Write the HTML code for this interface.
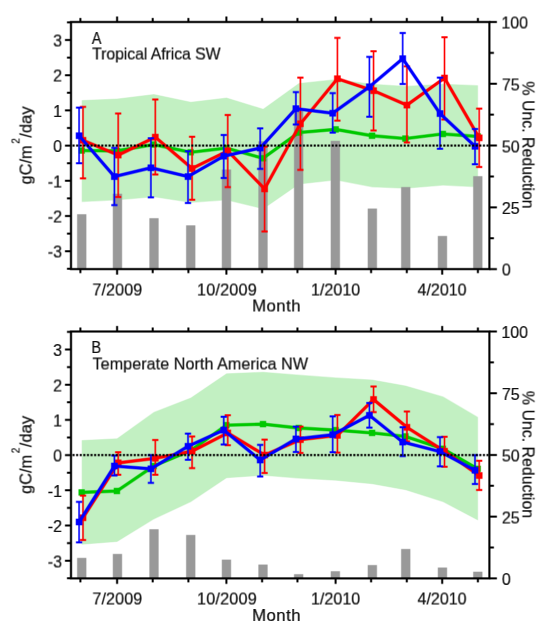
<!DOCTYPE html>
<html><head><meta charset="utf-8"><style>
html,body{margin:0;padding:0;background:#fff;}
svg{display:block;will-change:transform;}
.t{font-family:"Liberation Sans",sans-serif;font-size:16px;fill:#111;stroke:#111;stroke-width:0.2px;}
</style></head><body>
<svg width="550" height="625" viewBox="0 0 550 625">
<g transform="translate(-0.3 -0.3)" opacity="1.0000">
<rect width="550" height="625" fill="#fff"/>
<g>
<polygon points="81.85,100.19 117.1,98.78 153.9,94.21 190.85,101.95 226.55,97.73 263.2,108.99 298.95,83.3 335.85,79.42 372.28,84 405.6,86.11 443.05,84 477.9,85.41 477.9,187.14 443.05,185.38 405.6,188.54 372.28,187.14 335.85,180.1 298.95,184.32 263.2,208.96 226.55,200.16 190.85,202.62 153.9,196.99 117.1,200.16 81.85,201.92" fill="#c2f0c2"/>
<rect x="77.15" y="214.24" width="9.2" height="54.86" fill="#999999"/>
<rect x="112.85" y="193.73" width="9.2" height="75.37" fill="#999999"/>
<rect x="149.4" y="218.2" width="9.2" height="50.9" fill="#999999"/>
<rect x="186.15" y="225.36" width="9.2" height="43.74" fill="#999999"/>
<rect x="221.85" y="169.52" width="9.2" height="99.58" fill="#999999"/>
<rect x="258.4" y="141.35" width="9.2" height="127.75" fill="#999999"/>
<rect x="294.05" y="110.96" width="9.2" height="158.14" fill="#999999"/>
<rect x="330.75" y="140.86" width="9.2" height="128.24" fill="#999999"/>
<rect x="367.75" y="208.56" width="9.2" height="60.54" fill="#999999"/>
<rect x="401.15" y="187.06" width="9.2" height="82.04" fill="#999999"/>
<rect x="437.85" y="235.99" width="9.2" height="33.11" fill="#999999"/>
<rect x="473.2" y="176.19" width="9.2" height="92.91" fill="#999999"/>
<polyline points="81.65,150.53 116.9,150.88 153.7,144.54 190.65,152.29 226.35,148.06 263,158.27 298.75,132.58 335.65,129.41 372.08,135.74 405.4,138.56 442.85,133.98 477.7,136.45" fill="none" stroke="#00c800" stroke-width="3.2" stroke-linejoin="miter"/>
<rect x="78.5" y="147.38" width="6.3" height="6.3" fill="#00c800"/>
<rect x="113.75" y="147.73" width="6.3" height="6.3" fill="#00c800"/>
<rect x="150.55" y="141.39" width="6.3" height="6.3" fill="#00c800"/>
<rect x="187.5" y="149.14" width="6.3" height="6.3" fill="#00c800"/>
<rect x="223.2" y="144.91" width="6.3" height="6.3" fill="#00c800"/>
<rect x="259.85" y="155.12" width="6.3" height="6.3" fill="#00c800"/>
<rect x="295.6" y="129.43" width="6.3" height="6.3" fill="#00c800"/>
<rect x="332.5" y="126.26" width="6.3" height="6.3" fill="#00c800"/>
<rect x="368.93" y="132.59" width="6.3" height="6.3" fill="#00c800"/>
<rect x="402.25" y="135.41" width="6.3" height="6.3" fill="#00c800"/>
<rect x="439.7" y="130.83" width="6.3" height="6.3" fill="#00c800"/>
<rect x="474.55" y="133.3" width="6.3" height="6.3" fill="#00c800"/>
<polyline points="83,140.32 118.2,155.1 155.3,137.15 192.1,168.48 227.75,150.88 264.6,188.9 300.4,123.78 337.4,78.72 373.55,90.69 406.9,105.12 444.5,78.02 479.2,137.86" fill="none" stroke="#ff0000" stroke-width="3.2" stroke-linejoin="miter"/>
<path d="M83 106.88V178.34M118.2 113.57V196.99M155.3 99.49V174.46M192.1 136.8V199.81M227.75 114.98V187.14M264.6 146.66V231.49M300.4 77.66V169.89M337.4 37.89V120.61M373.55 51.26V130.46M406.9 66.4V142.43M444.5 37.18V119.55M479.2 108.64V167.07" stroke="#ff0000" stroke-width="1.6" fill="none"/>
<path d="M79.9 106.88H86.1M79.9 178.34H86.1M115.1 113.57H121.3M115.1 196.99H121.3M152.2 99.49H158.4M152.2 174.46H158.4M189 136.8H195.2M189 199.81H195.2M224.65 114.98H230.85M224.65 187.14H230.85M261.5 146.66H267.7M261.5 231.49H267.7M297.3 77.66H303.5M297.3 169.89H303.5M334.3 37.89H340.5M334.3 120.61H340.5M370.45 51.26H376.65M370.45 130.46H376.65M403.8 66.4H410M403.8 142.43H410M441.4 37.18H447.6M441.4 119.55H447.6M476.1 108.64H482.3M476.1 167.07H482.3" stroke="#ff0000" stroke-width="2" fill="none"/>
<rect x="79.7" y="137.02" width="6.6" height="6.6" fill="#ff0000"/>
<rect x="114.9" y="151.8" width="6.6" height="6.6" fill="#ff0000"/>
<rect x="152" y="133.85" width="6.6" height="6.6" fill="#ff0000"/>
<rect x="188.8" y="165.18" width="6.6" height="6.6" fill="#ff0000"/>
<rect x="224.45" y="147.58" width="6.6" height="6.6" fill="#ff0000"/>
<rect x="261.3" y="185.6" width="6.6" height="6.6" fill="#ff0000"/>
<rect x="297.1" y="120.48" width="6.6" height="6.6" fill="#ff0000"/>
<rect x="334.1" y="75.42" width="6.6" height="6.6" fill="#ff0000"/>
<rect x="370.25" y="87.39" width="6.6" height="6.6" fill="#ff0000"/>
<rect x="403.6" y="101.82" width="6.6" height="6.6" fill="#ff0000"/>
<rect x="441.2" y="74.72" width="6.6" height="6.6" fill="#ff0000"/>
<rect x="475.9" y="134.56" width="6.6" height="6.6" fill="#ff0000"/>
<polyline points="79.1,135.74 114.4,176.58 150.9,167.78 188,176.58 223.75,156.16 260.2,148.06 295.9,108.64 332.7,113.22 369.4,86.82 402.7,58.66 440,113.57 475,146.3" fill="none" stroke="#0000ff" stroke-width="3.2" stroke-linejoin="miter"/>
<path d="M79.1 107.58V163.2M114.4 147.89V205.09M150.9 138.21V197.34M188 151.23V202.98M223.75 135.04V177.98M260.2 128.35V168.83M295.9 92.1V124.48M332.7 93.15V132.58M369.4 56.9V116.74M402.7 32.96V84M440 77.66V148.77M475 129.06V164.26" stroke="#0000ff" stroke-width="1.6" fill="none"/>
<path d="M76 107.58H82.2M76 163.2H82.2M111.3 147.89H117.5M111.3 205.09H117.5M147.8 138.21H154M147.8 197.34H154M184.9 151.23H191.1M184.9 202.98H191.1M220.65 135.04H226.85M220.65 177.98H226.85M257.1 128.35H263.3M257.1 168.83H263.3M292.8 92.1H299M292.8 124.48H299M329.6 93.15H335.8M329.6 132.58H335.8M366.3 56.9H372.5M366.3 116.74H372.5M399.6 32.96H405.8M399.6 84H405.8M436.9 77.66H443.1M436.9 148.77H443.1M471.9 129.06H478.1M471.9 164.26H478.1" stroke="#0000ff" stroke-width="2" fill="none"/>
<rect x="75.8" y="132.44" width="6.6" height="6.6" fill="#0000ff"/>
<rect x="111.1" y="173.28" width="6.6" height="6.6" fill="#0000ff"/>
<rect x="147.6" y="164.48" width="6.6" height="6.6" fill="#0000ff"/>
<rect x="184.7" y="173.28" width="6.6" height="6.6" fill="#0000ff"/>
<rect x="220.45" y="152.86" width="6.6" height="6.6" fill="#0000ff"/>
<rect x="256.9" y="144.76" width="6.6" height="6.6" fill="#0000ff"/>
<rect x="292.6" y="105.34" width="6.6" height="6.6" fill="#0000ff"/>
<rect x="329.4" y="109.92" width="6.6" height="6.6" fill="#0000ff"/>
<rect x="366.1" y="83.52" width="6.6" height="6.6" fill="#0000ff"/>
<rect x="399.4" y="55.36" width="6.6" height="6.6" fill="#0000ff"/>
<rect x="436.7" y="110.27" width="6.6" height="6.6" fill="#0000ff"/>
<rect x="471.7" y="143" width="6.6" height="6.6" fill="#0000ff"/>
<line x1="72.5" y1="145.6" x2="488.4" y2="145.6" stroke="#000" stroke-width="2.1" stroke-dasharray="2.1 1.5"/>
<rect x="71" y="22" width="418.4" height="247.1" fill="none" stroke="#000" stroke-width="2.1"/>
<path d="M80.4 269.1V273.1M80.4 22V18M117.1 269.1V274.6M117.1 22V16.5M152.7 269.1V273.1M152.7 22V18M188.4 269.1V273.1M188.4 22V18M226.4 269.1V274.6M226.4 22V16.5M262.1 269.1V273.1M262.1 22V18M297.45 269.1V273.1M297.45 22V18M335.6 269.1V274.6M335.6 22V16.5M371.1 269.1V273.1M371.1 22V18M406.8 269.1V273.1M406.8 22V18M442.2 269.1V274.6M442.2 22V16.5M477.9 269.1V273.1M477.9 22V18M71 268.8H67M71 251.2H65M71 233.6H67M71 216H65M71 198.4H67M71 180.8H65M71 163.2H67M71 145.6H65M71 128H67M71 110.4H65M71 92.8H67M71 75.2H65M71 57.6H67M71 40H65M71 22.4H67M489.4 269.1H496.9M489.4 238.21H493.9M489.4 207.33H496.9M489.4 176.44H493.9M489.4 145.55H496.9M489.4 114.66H493.9M489.4 83.78H496.9M489.4 52.89H493.9M489.4 22H496.9" stroke="#000" stroke-width="2" fill="none"/>
<g transform="translate(0 0.6)">
<text x="62" y="257.2" text-anchor="end" class="t">-3</text>
<text x="62" y="222" text-anchor="end" class="t">-2</text>
<text x="62" y="186.8" text-anchor="end" class="t">-1</text>
<text x="62" y="151.6" text-anchor="end" class="t">0</text>
<text x="62" y="116.4" text-anchor="end" class="t">1</text>
<text x="62" y="81.2" text-anchor="end" class="t">2</text>
<text x="62" y="46" text-anchor="end" class="t">3</text>
<text x="501.85" y="275.2" class="t">0</text>
<text x="501.85" y="213.43" class="t">25</text>
<text x="501.85" y="151.65" class="t">50</text>
<text x="501.85" y="89.88" class="t">75</text>
<text x="501.35" y="28.1" class="t">100</text>
<text transform="translate(92.34 294.7) scale(1.0105 1)" style="letter-spacing:0.099px" class="t">7/2009</text>
<text transform="translate(197.03 294.7) scale(1.0166 1)" style="letter-spacing:0.152px" class="t">10/2009</text>
<text transform="translate(310.94 294.7) scale(1.0043 1)" style="letter-spacing:0.040px" class="t">1/2010</text>
<text transform="translate(417.55 294.7) scale(1.0010 1)" style="letter-spacing:0.010px" class="t">4/2010</text>
<text transform="translate(252.09 311.1) scale(1.0467 1)" style="letter-spacing:0.472px" class="t">Month</text>
<text transform="translate(91.9 43.2) scale(0.8952 1)" style="letter-spacing:0.000px" class="t">A</text>
<text transform="translate(92.15 59) scale(0.9906 1)" style="letter-spacing:-0.073px" class="t">Tropical Africa SW</text>
</g>
<text transform="translate(31.7 184.47) rotate(-90) scale(1.0247 1)" class="t">gC/m</text>
<text transform="translate(19.7 143.76) rotate(-90) scale(0.92 0.95)" style="font-size:11px" class="t">2</text>
<text transform="translate(31.7 137.7) rotate(-90) scale(1.0380 1)" class="t">/day</text>
<text transform="translate(522.4 81.4) rotate(90) scale(0.9945 1)" class="t">% Unc. Reduction</text>
</g>
<g>
<polygon points="81.85,440.32 117.1,438.56 153.9,412.16 190.85,397.72 226.55,373.44 263.2,372.03 298.95,374.84 335.85,377.66 372.28,379.77 405.6,385.76 443.05,396.67 477.9,417.08 477.9,520.22 443.05,501.92 405.6,489.95 372.28,483.96 335.85,480.44 298.95,478.33 263.2,475.52 226.55,477.98 190.85,501.92 153.9,519.16 117.1,541.69 81.85,544.51" fill="#c2f0c2"/>
<rect x="77.15" y="557.91" width="9.2" height="20.49" fill="#999999"/>
<rect x="112.85" y="553.96" width="9.2" height="24.44" fill="#999999"/>
<rect x="149.4" y="529.27" width="9.2" height="49.13" fill="#999999"/>
<rect x="186.15" y="534.95" width="9.2" height="43.45" fill="#999999"/>
<rect x="221.85" y="559.64" width="9.2" height="18.76" fill="#999999"/>
<rect x="258.4" y="564.57" width="9.2" height="13.83" fill="#999999"/>
<rect x="294.05" y="574.2" width="9.2" height="4.2" fill="#999999"/>
<rect x="330.75" y="571.24" width="9.2" height="7.16" fill="#999999"/>
<rect x="367.75" y="565.07" width="9.2" height="13.33" fill="#999999"/>
<rect x="401.15" y="549.02" width="9.2" height="29.38" fill="#999999"/>
<rect x="437.85" y="567.54" width="9.2" height="10.86" fill="#999999"/>
<rect x="473.2" y="571.73" width="9.2" height="6.67" fill="#999999"/>
<polyline points="81.65,492.41 116.9,491 153.7,466.01 190.65,450.52 226.35,425.18 263,424.12 298.75,428 335.65,430.11 372.08,432.92 405.4,436.44 442.85,448.76 477.7,468.83" fill="none" stroke="#00c800" stroke-width="3.2" stroke-linejoin="miter"/>
<rect x="78.5" y="489.26" width="6.3" height="6.3" fill="#00c800"/>
<rect x="113.75" y="487.85" width="6.3" height="6.3" fill="#00c800"/>
<rect x="150.55" y="462.86" width="6.3" height="6.3" fill="#00c800"/>
<rect x="187.5" y="447.37" width="6.3" height="6.3" fill="#00c800"/>
<rect x="223.2" y="422.03" width="6.3" height="6.3" fill="#00c800"/>
<rect x="259.85" y="420.97" width="6.3" height="6.3" fill="#00c800"/>
<rect x="295.6" y="424.85" width="6.3" height="6.3" fill="#00c800"/>
<rect x="332.5" y="426.96" width="6.3" height="6.3" fill="#00c800"/>
<rect x="368.93" y="429.77" width="6.3" height="6.3" fill="#00c800"/>
<rect x="402.25" y="433.29" width="6.3" height="6.3" fill="#00c800"/>
<rect x="439.7" y="445.61" width="6.3" height="6.3" fill="#00c800"/>
<rect x="474.55" y="465.68" width="6.3" height="6.3" fill="#00c800"/>
<polyline points="83,517.76 118.2,462.84 155.3,458.27 192.1,451.23 227.75,432.92 264.6,455.1 300.4,439.61 337.4,435.39 373.55,399.48 406.9,427.29 444.5,451.23 479.2,475.52" fill="none" stroke="#ff0000" stroke-width="3.2" stroke-linejoin="miter"/>
<path d="M83 495.58V539.93M118.2 452.28V474.81M155.3 439.96V474.81M192.1 436.44V468.12M227.75 415.32V445.24M264.6 439.61V473.05M300.4 426.59V452.99M337.4 414.97V452.64M373.55 386.46V412.16M406.9 411.45V441.37M444.5 436.8V466.72M479.2 460.73V489.95" stroke="#ff0000" stroke-width="1.6" fill="none"/>
<path d="M79.9 495.58H86.1M79.9 539.93H86.1M115.1 452.28H121.3M115.1 474.81H121.3M152.2 439.96H158.4M152.2 474.81H158.4M189 436.44H195.2M189 468.12H195.2M224.65 415.32H230.85M224.65 445.24H230.85M261.5 439.61H267.7M261.5 473.05H267.7M297.3 426.59H303.5M297.3 452.99H303.5M334.3 414.97H340.5M334.3 452.64H340.5M370.45 386.46H376.65M370.45 412.16H376.65M403.8 411.45H410M403.8 441.37H410M441.4 436.8H447.6M441.4 466.72H447.6M476.1 460.73H482.3M476.1 489.95H482.3" stroke="#ff0000" stroke-width="2" fill="none"/>
<rect x="79.7" y="514.46" width="6.6" height="6.6" fill="#ff0000"/>
<rect x="114.9" y="459.54" width="6.6" height="6.6" fill="#ff0000"/>
<rect x="152" y="454.97" width="6.6" height="6.6" fill="#ff0000"/>
<rect x="188.8" y="447.93" width="6.6" height="6.6" fill="#ff0000"/>
<rect x="224.45" y="429.62" width="6.6" height="6.6" fill="#ff0000"/>
<rect x="261.3" y="451.8" width="6.6" height="6.6" fill="#ff0000"/>
<rect x="297.1" y="436.31" width="6.6" height="6.6" fill="#ff0000"/>
<rect x="334.1" y="432.09" width="6.6" height="6.6" fill="#ff0000"/>
<rect x="370.25" y="396.18" width="6.6" height="6.6" fill="#ff0000"/>
<rect x="403.6" y="423.99" width="6.6" height="6.6" fill="#ff0000"/>
<rect x="441.2" y="447.93" width="6.6" height="6.6" fill="#ff0000"/>
<rect x="475.9" y="472.22" width="6.6" height="6.6" fill="#ff0000"/>
<polyline points="79.1,521.98 114.4,466.01 150.9,468.83 188,446.3 223.75,430.11 260.2,460.03 295.9,438.91 332.7,434.68 369.4,415.32 402.7,442.08 440,451.58 475,470.24" fill="none" stroke="#0000ff" stroke-width="3.2" stroke-linejoin="miter"/>
<path d="M79.1 501.92V542.4M114.4 455.45V475.52M150.9 455.1V482.91M188 433.63V459.68M223.75 416.73V444.54M260.2 444.89V476.57M295.9 426.59V451.93M332.7 416.38V452.28M369.4 403V427.64M402.7 427.29V456.16M440 437.15V466.36M475 455.1V483.96" stroke="#0000ff" stroke-width="1.6" fill="none"/>
<path d="M76 501.92H82.2M76 542.4H82.2M111.3 455.45H117.5M111.3 475.52H117.5M147.8 455.1H154M147.8 482.91H154M184.9 433.63H191.1M184.9 459.68H191.1M220.65 416.73H226.85M220.65 444.54H226.85M257.1 444.89H263.3M257.1 476.57H263.3M292.8 426.59H299M292.8 451.93H299M329.6 416.38H335.8M329.6 452.28H335.8M366.3 403H372.5M366.3 427.64H372.5M399.6 427.29H405.8M399.6 456.16H405.8M436.9 437.15H443.1M436.9 466.36H443.1M471.9 455.1H478.1M471.9 483.96H478.1" stroke="#0000ff" stroke-width="2" fill="none"/>
<rect x="75.8" y="518.68" width="6.6" height="6.6" fill="#0000ff"/>
<rect x="111.1" y="462.71" width="6.6" height="6.6" fill="#0000ff"/>
<rect x="147.6" y="465.53" width="6.6" height="6.6" fill="#0000ff"/>
<rect x="184.7" y="443" width="6.6" height="6.6" fill="#0000ff"/>
<rect x="220.45" y="426.81" width="6.6" height="6.6" fill="#0000ff"/>
<rect x="256.9" y="456.73" width="6.6" height="6.6" fill="#0000ff"/>
<rect x="292.6" y="435.61" width="6.6" height="6.6" fill="#0000ff"/>
<rect x="329.4" y="431.38" width="6.6" height="6.6" fill="#0000ff"/>
<rect x="366.1" y="412.02" width="6.6" height="6.6" fill="#0000ff"/>
<rect x="399.4" y="438.78" width="6.6" height="6.6" fill="#0000ff"/>
<rect x="436.7" y="448.28" width="6.6" height="6.6" fill="#0000ff"/>
<rect x="471.7" y="466.94" width="6.6" height="6.6" fill="#0000ff"/>
<line x1="72.5" y1="455.1" x2="488.4" y2="455.1" stroke="#000" stroke-width="2.1" stroke-dasharray="2.1 1.5"/>
<rect x="71" y="331.5" width="418.4" height="246.9" fill="none" stroke="#000" stroke-width="2.1"/>
<path d="M80.4 578.4V582.4M80.4 331.5V327.5M117.1 578.4V583.9M117.1 331.5V326M152.7 578.4V582.4M152.7 331.5V327.5M188.4 578.4V582.4M188.4 331.5V327.5M226.4 578.4V583.9M226.4 331.5V326M262.1 578.4V582.4M262.1 331.5V327.5M297.45 578.4V582.4M297.45 331.5V327.5M335.6 578.4V583.9M335.6 331.5V326M371.1 578.4V582.4M371.1 331.5V327.5M406.8 578.4V582.4M406.8 331.5V327.5M442.2 578.4V583.9M442.2 331.5V326M477.9 578.4V582.4M477.9 331.5V327.5M71 578.3H67M71 560.7H65M71 543.1H67M71 525.5H65M71 507.9H67M71 490.3H65M71 472.7H67M71 455.1H65M71 437.5H67M71 419.9H65M71 402.3H67M71 384.7H65M71 367.1H67M71 349.5H65M71 331.9H67M489.4 578.4H496.9M489.4 547.54H493.9M489.4 516.67H496.9M489.4 485.81H493.9M489.4 454.95H496.9M489.4 424.09H493.9M489.4 393.22H496.9M489.4 362.36H493.9M489.4 331.5H496.9" stroke="#000" stroke-width="2" fill="none"/>
<g transform="translate(0 0.6)">
<text x="62" y="566.7" text-anchor="end" class="t">-3</text>
<text x="62" y="531.5" text-anchor="end" class="t">-2</text>
<text x="62" y="496.3" text-anchor="end" class="t">-1</text>
<text x="62" y="461.1" text-anchor="end" class="t">0</text>
<text x="62" y="425.9" text-anchor="end" class="t">1</text>
<text x="62" y="390.7" text-anchor="end" class="t">2</text>
<text x="62" y="355.5" text-anchor="end" class="t">3</text>
<text x="501.85" y="584.5" class="t">0</text>
<text x="501.85" y="522.77" class="t">25</text>
<text x="501.85" y="461.05" class="t">50</text>
<text x="501.85" y="399.32" class="t">75</text>
<text x="501.35" y="337.6" class="t">100</text>
<text transform="translate(92.34 604) scale(1.0105 1)" style="letter-spacing:0.099px" class="t">7/2009</text>
<text transform="translate(197.03 604) scale(1.0166 1)" style="letter-spacing:0.152px" class="t">10/2009</text>
<text transform="translate(310.94 604) scale(1.0043 1)" style="letter-spacing:0.040px" class="t">1/2010</text>
<text transform="translate(417.55 604) scale(1.0010 1)" style="letter-spacing:0.010px" class="t">4/2010</text>
<text transform="translate(252.09 620.4) scale(1.0467 1)" style="letter-spacing:0.472px" class="t">Month</text>
<text transform="translate(91.35 352.4) scale(0.9176 1)" style="letter-spacing:0.000px" class="t">B</text>
<text transform="translate(92.55 369) scale(1.0074 1)" style="letter-spacing:0.063px" class="t">Temperate North America NW</text>
</g>
<text transform="translate(31.7 493.97) rotate(-90) scale(1.0247 1)" class="t">gC/m</text>
<text transform="translate(19.7 453.26) rotate(-90) scale(0.92 0.95)" style="font-size:11px" class="t">2</text>
<text transform="translate(31.7 447.2) rotate(-90) scale(1.0380 1)" class="t">/day</text>
<text transform="translate(522.4 390.9) rotate(90) scale(0.9945 1)" class="t">% Unc. Reduction</text>
</g>
</g>
<g transform="translate(0.3 -0.3)" opacity="0.5000">
<rect width="550" height="625" fill="#fff"/>
<g>
<polygon points="81.85,100.19 117.1,98.78 153.9,94.21 190.85,101.95 226.55,97.73 263.2,108.99 298.95,83.3 335.85,79.42 372.28,84 405.6,86.11 443.05,84 477.9,85.41 477.9,187.14 443.05,185.38 405.6,188.54 372.28,187.14 335.85,180.1 298.95,184.32 263.2,208.96 226.55,200.16 190.85,202.62 153.9,196.99 117.1,200.16 81.85,201.92" fill="#c2f0c2"/>
<rect x="77.15" y="214.24" width="9.2" height="54.86" fill="#999999"/>
<rect x="112.85" y="193.73" width="9.2" height="75.37" fill="#999999"/>
<rect x="149.4" y="218.2" width="9.2" height="50.9" fill="#999999"/>
<rect x="186.15" y="225.36" width="9.2" height="43.74" fill="#999999"/>
<rect x="221.85" y="169.52" width="9.2" height="99.58" fill="#999999"/>
<rect x="258.4" y="141.35" width="9.2" height="127.75" fill="#999999"/>
<rect x="294.05" y="110.96" width="9.2" height="158.14" fill="#999999"/>
<rect x="330.75" y="140.86" width="9.2" height="128.24" fill="#999999"/>
<rect x="367.75" y="208.56" width="9.2" height="60.54" fill="#999999"/>
<rect x="401.15" y="187.06" width="9.2" height="82.04" fill="#999999"/>
<rect x="437.85" y="235.99" width="9.2" height="33.11" fill="#999999"/>
<rect x="473.2" y="176.19" width="9.2" height="92.91" fill="#999999"/>
<polyline points="81.65,150.53 116.9,150.88 153.7,144.54 190.65,152.29 226.35,148.06 263,158.27 298.75,132.58 335.65,129.41 372.08,135.74 405.4,138.56 442.85,133.98 477.7,136.45" fill="none" stroke="#00c800" stroke-width="3.2" stroke-linejoin="miter"/>
<rect x="78.5" y="147.38" width="6.3" height="6.3" fill="#00c800"/>
<rect x="113.75" y="147.73" width="6.3" height="6.3" fill="#00c800"/>
<rect x="150.55" y="141.39" width="6.3" height="6.3" fill="#00c800"/>
<rect x="187.5" y="149.14" width="6.3" height="6.3" fill="#00c800"/>
<rect x="223.2" y="144.91" width="6.3" height="6.3" fill="#00c800"/>
<rect x="259.85" y="155.12" width="6.3" height="6.3" fill="#00c800"/>
<rect x="295.6" y="129.43" width="6.3" height="6.3" fill="#00c800"/>
<rect x="332.5" y="126.26" width="6.3" height="6.3" fill="#00c800"/>
<rect x="368.93" y="132.59" width="6.3" height="6.3" fill="#00c800"/>
<rect x="402.25" y="135.41" width="6.3" height="6.3" fill="#00c800"/>
<rect x="439.7" y="130.83" width="6.3" height="6.3" fill="#00c800"/>
<rect x="474.55" y="133.3" width="6.3" height="6.3" fill="#00c800"/>
<polyline points="83,140.32 118.2,155.1 155.3,137.15 192.1,168.48 227.75,150.88 264.6,188.9 300.4,123.78 337.4,78.72 373.55,90.69 406.9,105.12 444.5,78.02 479.2,137.86" fill="none" stroke="#ff0000" stroke-width="3.2" stroke-linejoin="miter"/>
<path d="M83 106.88V178.34M118.2 113.57V196.99M155.3 99.49V174.46M192.1 136.8V199.81M227.75 114.98V187.14M264.6 146.66V231.49M300.4 77.66V169.89M337.4 37.89V120.61M373.55 51.26V130.46M406.9 66.4V142.43M444.5 37.18V119.55M479.2 108.64V167.07" stroke="#ff0000" stroke-width="1.6" fill="none"/>
<path d="M79.9 106.88H86.1M79.9 178.34H86.1M115.1 113.57H121.3M115.1 196.99H121.3M152.2 99.49H158.4M152.2 174.46H158.4M189 136.8H195.2M189 199.81H195.2M224.65 114.98H230.85M224.65 187.14H230.85M261.5 146.66H267.7M261.5 231.49H267.7M297.3 77.66H303.5M297.3 169.89H303.5M334.3 37.89H340.5M334.3 120.61H340.5M370.45 51.26H376.65M370.45 130.46H376.65M403.8 66.4H410M403.8 142.43H410M441.4 37.18H447.6M441.4 119.55H447.6M476.1 108.64H482.3M476.1 167.07H482.3" stroke="#ff0000" stroke-width="2" fill="none"/>
<rect x="79.7" y="137.02" width="6.6" height="6.6" fill="#ff0000"/>
<rect x="114.9" y="151.8" width="6.6" height="6.6" fill="#ff0000"/>
<rect x="152" y="133.85" width="6.6" height="6.6" fill="#ff0000"/>
<rect x="188.8" y="165.18" width="6.6" height="6.6" fill="#ff0000"/>
<rect x="224.45" y="147.58" width="6.6" height="6.6" fill="#ff0000"/>
<rect x="261.3" y="185.6" width="6.6" height="6.6" fill="#ff0000"/>
<rect x="297.1" y="120.48" width="6.6" height="6.6" fill="#ff0000"/>
<rect x="334.1" y="75.42" width="6.6" height="6.6" fill="#ff0000"/>
<rect x="370.25" y="87.39" width="6.6" height="6.6" fill="#ff0000"/>
<rect x="403.6" y="101.82" width="6.6" height="6.6" fill="#ff0000"/>
<rect x="441.2" y="74.72" width="6.6" height="6.6" fill="#ff0000"/>
<rect x="475.9" y="134.56" width="6.6" height="6.6" fill="#ff0000"/>
<polyline points="79.1,135.74 114.4,176.58 150.9,167.78 188,176.58 223.75,156.16 260.2,148.06 295.9,108.64 332.7,113.22 369.4,86.82 402.7,58.66 440,113.57 475,146.3" fill="none" stroke="#0000ff" stroke-width="3.2" stroke-linejoin="miter"/>
<path d="M79.1 107.58V163.2M114.4 147.89V205.09M150.9 138.21V197.34M188 151.23V202.98M223.75 135.04V177.98M260.2 128.35V168.83M295.9 92.1V124.48M332.7 93.15V132.58M369.4 56.9V116.74M402.7 32.96V84M440 77.66V148.77M475 129.06V164.26" stroke="#0000ff" stroke-width="1.6" fill="none"/>
<path d="M76 107.58H82.2M76 163.2H82.2M111.3 147.89H117.5M111.3 205.09H117.5M147.8 138.21H154M147.8 197.34H154M184.9 151.23H191.1M184.9 202.98H191.1M220.65 135.04H226.85M220.65 177.98H226.85M257.1 128.35H263.3M257.1 168.83H263.3M292.8 92.1H299M292.8 124.48H299M329.6 93.15H335.8M329.6 132.58H335.8M366.3 56.9H372.5M366.3 116.74H372.5M399.6 32.96H405.8M399.6 84H405.8M436.9 77.66H443.1M436.9 148.77H443.1M471.9 129.06H478.1M471.9 164.26H478.1" stroke="#0000ff" stroke-width="2" fill="none"/>
<rect x="75.8" y="132.44" width="6.6" height="6.6" fill="#0000ff"/>
<rect x="111.1" y="173.28" width="6.6" height="6.6" fill="#0000ff"/>
<rect x="147.6" y="164.48" width="6.6" height="6.6" fill="#0000ff"/>
<rect x="184.7" y="173.28" width="6.6" height="6.6" fill="#0000ff"/>
<rect x="220.45" y="152.86" width="6.6" height="6.6" fill="#0000ff"/>
<rect x="256.9" y="144.76" width="6.6" height="6.6" fill="#0000ff"/>
<rect x="292.6" y="105.34" width="6.6" height="6.6" fill="#0000ff"/>
<rect x="329.4" y="109.92" width="6.6" height="6.6" fill="#0000ff"/>
<rect x="366.1" y="83.52" width="6.6" height="6.6" fill="#0000ff"/>
<rect x="399.4" y="55.36" width="6.6" height="6.6" fill="#0000ff"/>
<rect x="436.7" y="110.27" width="6.6" height="6.6" fill="#0000ff"/>
<rect x="471.7" y="143" width="6.6" height="6.6" fill="#0000ff"/>
<line x1="72.5" y1="145.6" x2="488.4" y2="145.6" stroke="#000" stroke-width="2.1" stroke-dasharray="2.1 1.5"/>
<rect x="71" y="22" width="418.4" height="247.1" fill="none" stroke="#000" stroke-width="2.1"/>
<path d="M80.4 269.1V273.1M80.4 22V18M117.1 269.1V274.6M117.1 22V16.5M152.7 269.1V273.1M152.7 22V18M188.4 269.1V273.1M188.4 22V18M226.4 269.1V274.6M226.4 22V16.5M262.1 269.1V273.1M262.1 22V18M297.45 269.1V273.1M297.45 22V18M335.6 269.1V274.6M335.6 22V16.5M371.1 269.1V273.1M371.1 22V18M406.8 269.1V273.1M406.8 22V18M442.2 269.1V274.6M442.2 22V16.5M477.9 269.1V273.1M477.9 22V18M71 268.8H67M71 251.2H65M71 233.6H67M71 216H65M71 198.4H67M71 180.8H65M71 163.2H67M71 145.6H65M71 128H67M71 110.4H65M71 92.8H67M71 75.2H65M71 57.6H67M71 40H65M71 22.4H67M489.4 269.1H496.9M489.4 238.21H493.9M489.4 207.33H496.9M489.4 176.44H493.9M489.4 145.55H496.9M489.4 114.66H493.9M489.4 83.78H496.9M489.4 52.89H493.9M489.4 22H496.9" stroke="#000" stroke-width="2" fill="none"/>
<g transform="translate(0 0.6)">
<text x="62" y="257.2" text-anchor="end" class="t">-3</text>
<text x="62" y="222" text-anchor="end" class="t">-2</text>
<text x="62" y="186.8" text-anchor="end" class="t">-1</text>
<text x="62" y="151.6" text-anchor="end" class="t">0</text>
<text x="62" y="116.4" text-anchor="end" class="t">1</text>
<text x="62" y="81.2" text-anchor="end" class="t">2</text>
<text x="62" y="46" text-anchor="end" class="t">3</text>
<text x="501.85" y="275.2" class="t">0</text>
<text x="501.85" y="213.43" class="t">25</text>
<text x="501.85" y="151.65" class="t">50</text>
<text x="501.85" y="89.88" class="t">75</text>
<text x="501.35" y="28.1" class="t">100</text>
<text transform="translate(92.34 294.7) scale(1.0105 1)" style="letter-spacing:0.099px" class="t">7/2009</text>
<text transform="translate(197.03 294.7) scale(1.0166 1)" style="letter-spacing:0.152px" class="t">10/2009</text>
<text transform="translate(310.94 294.7) scale(1.0043 1)" style="letter-spacing:0.040px" class="t">1/2010</text>
<text transform="translate(417.55 294.7) scale(1.0010 1)" style="letter-spacing:0.010px" class="t">4/2010</text>
<text transform="translate(252.09 311.1) scale(1.0467 1)" style="letter-spacing:0.472px" class="t">Month</text>
<text transform="translate(91.9 43.2) scale(0.8952 1)" style="letter-spacing:0.000px" class="t">A</text>
<text transform="translate(92.15 59) scale(0.9906 1)" style="letter-spacing:-0.073px" class="t">Tropical Africa SW</text>
</g>
<text transform="translate(31.7 184.47) rotate(-90) scale(1.0247 1)" class="t">gC/m</text>
<text transform="translate(19.7 143.76) rotate(-90) scale(0.92 0.95)" style="font-size:11px" class="t">2</text>
<text transform="translate(31.7 137.7) rotate(-90) scale(1.0380 1)" class="t">/day</text>
<text transform="translate(522.4 81.4) rotate(90) scale(0.9945 1)" class="t">% Unc. Reduction</text>
</g>
<g>
<polygon points="81.85,440.32 117.1,438.56 153.9,412.16 190.85,397.72 226.55,373.44 263.2,372.03 298.95,374.84 335.85,377.66 372.28,379.77 405.6,385.76 443.05,396.67 477.9,417.08 477.9,520.22 443.05,501.92 405.6,489.95 372.28,483.96 335.85,480.44 298.95,478.33 263.2,475.52 226.55,477.98 190.85,501.92 153.9,519.16 117.1,541.69 81.85,544.51" fill="#c2f0c2"/>
<rect x="77.15" y="557.91" width="9.2" height="20.49" fill="#999999"/>
<rect x="112.85" y="553.96" width="9.2" height="24.44" fill="#999999"/>
<rect x="149.4" y="529.27" width="9.2" height="49.13" fill="#999999"/>
<rect x="186.15" y="534.95" width="9.2" height="43.45" fill="#999999"/>
<rect x="221.85" y="559.64" width="9.2" height="18.76" fill="#999999"/>
<rect x="258.4" y="564.57" width="9.2" height="13.83" fill="#999999"/>
<rect x="294.05" y="574.2" width="9.2" height="4.2" fill="#999999"/>
<rect x="330.75" y="571.24" width="9.2" height="7.16" fill="#999999"/>
<rect x="367.75" y="565.07" width="9.2" height="13.33" fill="#999999"/>
<rect x="401.15" y="549.02" width="9.2" height="29.38" fill="#999999"/>
<rect x="437.85" y="567.54" width="9.2" height="10.86" fill="#999999"/>
<rect x="473.2" y="571.73" width="9.2" height="6.67" fill="#999999"/>
<polyline points="81.65,492.41 116.9,491 153.7,466.01 190.65,450.52 226.35,425.18 263,424.12 298.75,428 335.65,430.11 372.08,432.92 405.4,436.44 442.85,448.76 477.7,468.83" fill="none" stroke="#00c800" stroke-width="3.2" stroke-linejoin="miter"/>
<rect x="78.5" y="489.26" width="6.3" height="6.3" fill="#00c800"/>
<rect x="113.75" y="487.85" width="6.3" height="6.3" fill="#00c800"/>
<rect x="150.55" y="462.86" width="6.3" height="6.3" fill="#00c800"/>
<rect x="187.5" y="447.37" width="6.3" height="6.3" fill="#00c800"/>
<rect x="223.2" y="422.03" width="6.3" height="6.3" fill="#00c800"/>
<rect x="259.85" y="420.97" width="6.3" height="6.3" fill="#00c800"/>
<rect x="295.6" y="424.85" width="6.3" height="6.3" fill="#00c800"/>
<rect x="332.5" y="426.96" width="6.3" height="6.3" fill="#00c800"/>
<rect x="368.93" y="429.77" width="6.3" height="6.3" fill="#00c800"/>
<rect x="402.25" y="433.29" width="6.3" height="6.3" fill="#00c800"/>
<rect x="439.7" y="445.61" width="6.3" height="6.3" fill="#00c800"/>
<rect x="474.55" y="465.68" width="6.3" height="6.3" fill="#00c800"/>
<polyline points="83,517.76 118.2,462.84 155.3,458.27 192.1,451.23 227.75,432.92 264.6,455.1 300.4,439.61 337.4,435.39 373.55,399.48 406.9,427.29 444.5,451.23 479.2,475.52" fill="none" stroke="#ff0000" stroke-width="3.2" stroke-linejoin="miter"/>
<path d="M83 495.58V539.93M118.2 452.28V474.81M155.3 439.96V474.81M192.1 436.44V468.12M227.75 415.32V445.24M264.6 439.61V473.05M300.4 426.59V452.99M337.4 414.97V452.64M373.55 386.46V412.16M406.9 411.45V441.37M444.5 436.8V466.72M479.2 460.73V489.95" stroke="#ff0000" stroke-width="1.6" fill="none"/>
<path d="M79.9 495.58H86.1M79.9 539.93H86.1M115.1 452.28H121.3M115.1 474.81H121.3M152.2 439.96H158.4M152.2 474.81H158.4M189 436.44H195.2M189 468.12H195.2M224.65 415.32H230.85M224.65 445.24H230.85M261.5 439.61H267.7M261.5 473.05H267.7M297.3 426.59H303.5M297.3 452.99H303.5M334.3 414.97H340.5M334.3 452.64H340.5M370.45 386.46H376.65M370.45 412.16H376.65M403.8 411.45H410M403.8 441.37H410M441.4 436.8H447.6M441.4 466.72H447.6M476.1 460.73H482.3M476.1 489.95H482.3" stroke="#ff0000" stroke-width="2" fill="none"/>
<rect x="79.7" y="514.46" width="6.6" height="6.6" fill="#ff0000"/>
<rect x="114.9" y="459.54" width="6.6" height="6.6" fill="#ff0000"/>
<rect x="152" y="454.97" width="6.6" height="6.6" fill="#ff0000"/>
<rect x="188.8" y="447.93" width="6.6" height="6.6" fill="#ff0000"/>
<rect x="224.45" y="429.62" width="6.6" height="6.6" fill="#ff0000"/>
<rect x="261.3" y="451.8" width="6.6" height="6.6" fill="#ff0000"/>
<rect x="297.1" y="436.31" width="6.6" height="6.6" fill="#ff0000"/>
<rect x="334.1" y="432.09" width="6.6" height="6.6" fill="#ff0000"/>
<rect x="370.25" y="396.18" width="6.6" height="6.6" fill="#ff0000"/>
<rect x="403.6" y="423.99" width="6.6" height="6.6" fill="#ff0000"/>
<rect x="441.2" y="447.93" width="6.6" height="6.6" fill="#ff0000"/>
<rect x="475.9" y="472.22" width="6.6" height="6.6" fill="#ff0000"/>
<polyline points="79.1,521.98 114.4,466.01 150.9,468.83 188,446.3 223.75,430.11 260.2,460.03 295.9,438.91 332.7,434.68 369.4,415.32 402.7,442.08 440,451.58 475,470.24" fill="none" stroke="#0000ff" stroke-width="3.2" stroke-linejoin="miter"/>
<path d="M79.1 501.92V542.4M114.4 455.45V475.52M150.9 455.1V482.91M188 433.63V459.68M223.75 416.73V444.54M260.2 444.89V476.57M295.9 426.59V451.93M332.7 416.38V452.28M369.4 403V427.64M402.7 427.29V456.16M440 437.15V466.36M475 455.1V483.96" stroke="#0000ff" stroke-width="1.6" fill="none"/>
<path d="M76 501.92H82.2M76 542.4H82.2M111.3 455.45H117.5M111.3 475.52H117.5M147.8 455.1H154M147.8 482.91H154M184.9 433.63H191.1M184.9 459.68H191.1M220.65 416.73H226.85M220.65 444.54H226.85M257.1 444.89H263.3M257.1 476.57H263.3M292.8 426.59H299M292.8 451.93H299M329.6 416.38H335.8M329.6 452.28H335.8M366.3 403H372.5M366.3 427.64H372.5M399.6 427.29H405.8M399.6 456.16H405.8M436.9 437.15H443.1M436.9 466.36H443.1M471.9 455.1H478.1M471.9 483.96H478.1" stroke="#0000ff" stroke-width="2" fill="none"/>
<rect x="75.8" y="518.68" width="6.6" height="6.6" fill="#0000ff"/>
<rect x="111.1" y="462.71" width="6.6" height="6.6" fill="#0000ff"/>
<rect x="147.6" y="465.53" width="6.6" height="6.6" fill="#0000ff"/>
<rect x="184.7" y="443" width="6.6" height="6.6" fill="#0000ff"/>
<rect x="220.45" y="426.81" width="6.6" height="6.6" fill="#0000ff"/>
<rect x="256.9" y="456.73" width="6.6" height="6.6" fill="#0000ff"/>
<rect x="292.6" y="435.61" width="6.6" height="6.6" fill="#0000ff"/>
<rect x="329.4" y="431.38" width="6.6" height="6.6" fill="#0000ff"/>
<rect x="366.1" y="412.02" width="6.6" height="6.6" fill="#0000ff"/>
<rect x="399.4" y="438.78" width="6.6" height="6.6" fill="#0000ff"/>
<rect x="436.7" y="448.28" width="6.6" height="6.6" fill="#0000ff"/>
<rect x="471.7" y="466.94" width="6.6" height="6.6" fill="#0000ff"/>
<line x1="72.5" y1="455.1" x2="488.4" y2="455.1" stroke="#000" stroke-width="2.1" stroke-dasharray="2.1 1.5"/>
<rect x="71" y="331.5" width="418.4" height="246.9" fill="none" stroke="#000" stroke-width="2.1"/>
<path d="M80.4 578.4V582.4M80.4 331.5V327.5M117.1 578.4V583.9M117.1 331.5V326M152.7 578.4V582.4M152.7 331.5V327.5M188.4 578.4V582.4M188.4 331.5V327.5M226.4 578.4V583.9M226.4 331.5V326M262.1 578.4V582.4M262.1 331.5V327.5M297.45 578.4V582.4M297.45 331.5V327.5M335.6 578.4V583.9M335.6 331.5V326M371.1 578.4V582.4M371.1 331.5V327.5M406.8 578.4V582.4M406.8 331.5V327.5M442.2 578.4V583.9M442.2 331.5V326M477.9 578.4V582.4M477.9 331.5V327.5M71 578.3H67M71 560.7H65M71 543.1H67M71 525.5H65M71 507.9H67M71 490.3H65M71 472.7H67M71 455.1H65M71 437.5H67M71 419.9H65M71 402.3H67M71 384.7H65M71 367.1H67M71 349.5H65M71 331.9H67M489.4 578.4H496.9M489.4 547.54H493.9M489.4 516.67H496.9M489.4 485.81H493.9M489.4 454.95H496.9M489.4 424.09H493.9M489.4 393.22H496.9M489.4 362.36H493.9M489.4 331.5H496.9" stroke="#000" stroke-width="2" fill="none"/>
<g transform="translate(0 0.6)">
<text x="62" y="566.7" text-anchor="end" class="t">-3</text>
<text x="62" y="531.5" text-anchor="end" class="t">-2</text>
<text x="62" y="496.3" text-anchor="end" class="t">-1</text>
<text x="62" y="461.1" text-anchor="end" class="t">0</text>
<text x="62" y="425.9" text-anchor="end" class="t">1</text>
<text x="62" y="390.7" text-anchor="end" class="t">2</text>
<text x="62" y="355.5" text-anchor="end" class="t">3</text>
<text x="501.85" y="584.5" class="t">0</text>
<text x="501.85" y="522.77" class="t">25</text>
<text x="501.85" y="461.05" class="t">50</text>
<text x="501.85" y="399.32" class="t">75</text>
<text x="501.35" y="337.6" class="t">100</text>
<text transform="translate(92.34 604) scale(1.0105 1)" style="letter-spacing:0.099px" class="t">7/2009</text>
<text transform="translate(197.03 604) scale(1.0166 1)" style="letter-spacing:0.152px" class="t">10/2009</text>
<text transform="translate(310.94 604) scale(1.0043 1)" style="letter-spacing:0.040px" class="t">1/2010</text>
<text transform="translate(417.55 604) scale(1.0010 1)" style="letter-spacing:0.010px" class="t">4/2010</text>
<text transform="translate(252.09 620.4) scale(1.0467 1)" style="letter-spacing:0.472px" class="t">Month</text>
<text transform="translate(91.35 352.4) scale(0.9176 1)" style="letter-spacing:0.000px" class="t">B</text>
<text transform="translate(92.55 369) scale(1.0074 1)" style="letter-spacing:0.063px" class="t">Temperate North America NW</text>
</g>
<text transform="translate(31.7 493.97) rotate(-90) scale(1.0247 1)" class="t">gC/m</text>
<text transform="translate(19.7 453.26) rotate(-90) scale(0.92 0.95)" style="font-size:11px" class="t">2</text>
<text transform="translate(31.7 447.2) rotate(-90) scale(1.0380 1)" class="t">/day</text>
<text transform="translate(522.4 390.9) rotate(90) scale(0.9945 1)" class="t">% Unc. Reduction</text>
</g>
</g>
<g transform="translate(-0.3 0.3)" opacity="0.3333">
<rect width="550" height="625" fill="#fff"/>
<g>
<polygon points="81.85,100.19 117.1,98.78 153.9,94.21 190.85,101.95 226.55,97.73 263.2,108.99 298.95,83.3 335.85,79.42 372.28,84 405.6,86.11 443.05,84 477.9,85.41 477.9,187.14 443.05,185.38 405.6,188.54 372.28,187.14 335.85,180.1 298.95,184.32 263.2,208.96 226.55,200.16 190.85,202.62 153.9,196.99 117.1,200.16 81.85,201.92" fill="#c2f0c2"/>
<rect x="77.15" y="214.24" width="9.2" height="54.86" fill="#999999"/>
<rect x="112.85" y="193.73" width="9.2" height="75.37" fill="#999999"/>
<rect x="149.4" y="218.2" width="9.2" height="50.9" fill="#999999"/>
<rect x="186.15" y="225.36" width="9.2" height="43.74" fill="#999999"/>
<rect x="221.85" y="169.52" width="9.2" height="99.58" fill="#999999"/>
<rect x="258.4" y="141.35" width="9.2" height="127.75" fill="#999999"/>
<rect x="294.05" y="110.96" width="9.2" height="158.14" fill="#999999"/>
<rect x="330.75" y="140.86" width="9.2" height="128.24" fill="#999999"/>
<rect x="367.75" y="208.56" width="9.2" height="60.54" fill="#999999"/>
<rect x="401.15" y="187.06" width="9.2" height="82.04" fill="#999999"/>
<rect x="437.85" y="235.99" width="9.2" height="33.11" fill="#999999"/>
<rect x="473.2" y="176.19" width="9.2" height="92.91" fill="#999999"/>
<polyline points="81.65,150.53 116.9,150.88 153.7,144.54 190.65,152.29 226.35,148.06 263,158.27 298.75,132.58 335.65,129.41 372.08,135.74 405.4,138.56 442.85,133.98 477.7,136.45" fill="none" stroke="#00c800" stroke-width="3.2" stroke-linejoin="miter"/>
<rect x="78.5" y="147.38" width="6.3" height="6.3" fill="#00c800"/>
<rect x="113.75" y="147.73" width="6.3" height="6.3" fill="#00c800"/>
<rect x="150.55" y="141.39" width="6.3" height="6.3" fill="#00c800"/>
<rect x="187.5" y="149.14" width="6.3" height="6.3" fill="#00c800"/>
<rect x="223.2" y="144.91" width="6.3" height="6.3" fill="#00c800"/>
<rect x="259.85" y="155.12" width="6.3" height="6.3" fill="#00c800"/>
<rect x="295.6" y="129.43" width="6.3" height="6.3" fill="#00c800"/>
<rect x="332.5" y="126.26" width="6.3" height="6.3" fill="#00c800"/>
<rect x="368.93" y="132.59" width="6.3" height="6.3" fill="#00c800"/>
<rect x="402.25" y="135.41" width="6.3" height="6.3" fill="#00c800"/>
<rect x="439.7" y="130.83" width="6.3" height="6.3" fill="#00c800"/>
<rect x="474.55" y="133.3" width="6.3" height="6.3" fill="#00c800"/>
<polyline points="83,140.32 118.2,155.1 155.3,137.15 192.1,168.48 227.75,150.88 264.6,188.9 300.4,123.78 337.4,78.72 373.55,90.69 406.9,105.12 444.5,78.02 479.2,137.86" fill="none" stroke="#ff0000" stroke-width="3.2" stroke-linejoin="miter"/>
<path d="M83 106.88V178.34M118.2 113.57V196.99M155.3 99.49V174.46M192.1 136.8V199.81M227.75 114.98V187.14M264.6 146.66V231.49M300.4 77.66V169.89M337.4 37.89V120.61M373.55 51.26V130.46M406.9 66.4V142.43M444.5 37.18V119.55M479.2 108.64V167.07" stroke="#ff0000" stroke-width="1.6" fill="none"/>
<path d="M79.9 106.88H86.1M79.9 178.34H86.1M115.1 113.57H121.3M115.1 196.99H121.3M152.2 99.49H158.4M152.2 174.46H158.4M189 136.8H195.2M189 199.81H195.2M224.65 114.98H230.85M224.65 187.14H230.85M261.5 146.66H267.7M261.5 231.49H267.7M297.3 77.66H303.5M297.3 169.89H303.5M334.3 37.89H340.5M334.3 120.61H340.5M370.45 51.26H376.65M370.45 130.46H376.65M403.8 66.4H410M403.8 142.43H410M441.4 37.18H447.6M441.4 119.55H447.6M476.1 108.64H482.3M476.1 167.07H482.3" stroke="#ff0000" stroke-width="2" fill="none"/>
<rect x="79.7" y="137.02" width="6.6" height="6.6" fill="#ff0000"/>
<rect x="114.9" y="151.8" width="6.6" height="6.6" fill="#ff0000"/>
<rect x="152" y="133.85" width="6.6" height="6.6" fill="#ff0000"/>
<rect x="188.8" y="165.18" width="6.6" height="6.6" fill="#ff0000"/>
<rect x="224.45" y="147.58" width="6.6" height="6.6" fill="#ff0000"/>
<rect x="261.3" y="185.6" width="6.6" height="6.6" fill="#ff0000"/>
<rect x="297.1" y="120.48" width="6.6" height="6.6" fill="#ff0000"/>
<rect x="334.1" y="75.42" width="6.6" height="6.6" fill="#ff0000"/>
<rect x="370.25" y="87.39" width="6.6" height="6.6" fill="#ff0000"/>
<rect x="403.6" y="101.82" width="6.6" height="6.6" fill="#ff0000"/>
<rect x="441.2" y="74.72" width="6.6" height="6.6" fill="#ff0000"/>
<rect x="475.9" y="134.56" width="6.6" height="6.6" fill="#ff0000"/>
<polyline points="79.1,135.74 114.4,176.58 150.9,167.78 188,176.58 223.75,156.16 260.2,148.06 295.9,108.64 332.7,113.22 369.4,86.82 402.7,58.66 440,113.57 475,146.3" fill="none" stroke="#0000ff" stroke-width="3.2" stroke-linejoin="miter"/>
<path d="M79.1 107.58V163.2M114.4 147.89V205.09M150.9 138.21V197.34M188 151.23V202.98M223.75 135.04V177.98M260.2 128.35V168.83M295.9 92.1V124.48M332.7 93.15V132.58M369.4 56.9V116.74M402.7 32.96V84M440 77.66V148.77M475 129.06V164.26" stroke="#0000ff" stroke-width="1.6" fill="none"/>
<path d="M76 107.58H82.2M76 163.2H82.2M111.3 147.89H117.5M111.3 205.09H117.5M147.8 138.21H154M147.8 197.34H154M184.9 151.23H191.1M184.9 202.98H191.1M220.65 135.04H226.85M220.65 177.98H226.85M257.1 128.35H263.3M257.1 168.83H263.3M292.8 92.1H299M292.8 124.48H299M329.6 93.15H335.8M329.6 132.58H335.8M366.3 56.9H372.5M366.3 116.74H372.5M399.6 32.96H405.8M399.6 84H405.8M436.9 77.66H443.1M436.9 148.77H443.1M471.9 129.06H478.1M471.9 164.26H478.1" stroke="#0000ff" stroke-width="2" fill="none"/>
<rect x="75.8" y="132.44" width="6.6" height="6.6" fill="#0000ff"/>
<rect x="111.1" y="173.28" width="6.6" height="6.6" fill="#0000ff"/>
<rect x="147.6" y="164.48" width="6.6" height="6.6" fill="#0000ff"/>
<rect x="184.7" y="173.28" width="6.6" height="6.6" fill="#0000ff"/>
<rect x="220.45" y="152.86" width="6.6" height="6.6" fill="#0000ff"/>
<rect x="256.9" y="144.76" width="6.6" height="6.6" fill="#0000ff"/>
<rect x="292.6" y="105.34" width="6.6" height="6.6" fill="#0000ff"/>
<rect x="329.4" y="109.92" width="6.6" height="6.6" fill="#0000ff"/>
<rect x="366.1" y="83.52" width="6.6" height="6.6" fill="#0000ff"/>
<rect x="399.4" y="55.36" width="6.6" height="6.6" fill="#0000ff"/>
<rect x="436.7" y="110.27" width="6.6" height="6.6" fill="#0000ff"/>
<rect x="471.7" y="143" width="6.6" height="6.6" fill="#0000ff"/>
<line x1="72.5" y1="145.6" x2="488.4" y2="145.6" stroke="#000" stroke-width="2.1" stroke-dasharray="2.1 1.5"/>
<rect x="71" y="22" width="418.4" height="247.1" fill="none" stroke="#000" stroke-width="2.1"/>
<path d="M80.4 269.1V273.1M80.4 22V18M117.1 269.1V274.6M117.1 22V16.5M152.7 269.1V273.1M152.7 22V18M188.4 269.1V273.1M188.4 22V18M226.4 269.1V274.6M226.4 22V16.5M262.1 269.1V273.1M262.1 22V18M297.45 269.1V273.1M297.45 22V18M335.6 269.1V274.6M335.6 22V16.5M371.1 269.1V273.1M371.1 22V18M406.8 269.1V273.1M406.8 22V18M442.2 269.1V274.6M442.2 22V16.5M477.9 269.1V273.1M477.9 22V18M71 268.8H67M71 251.2H65M71 233.6H67M71 216H65M71 198.4H67M71 180.8H65M71 163.2H67M71 145.6H65M71 128H67M71 110.4H65M71 92.8H67M71 75.2H65M71 57.6H67M71 40H65M71 22.4H67M489.4 269.1H496.9M489.4 238.21H493.9M489.4 207.33H496.9M489.4 176.44H493.9M489.4 145.55H496.9M489.4 114.66H493.9M489.4 83.78H496.9M489.4 52.89H493.9M489.4 22H496.9" stroke="#000" stroke-width="2" fill="none"/>
<g transform="translate(0 0.6)">
<text x="62" y="257.2" text-anchor="end" class="t">-3</text>
<text x="62" y="222" text-anchor="end" class="t">-2</text>
<text x="62" y="186.8" text-anchor="end" class="t">-1</text>
<text x="62" y="151.6" text-anchor="end" class="t">0</text>
<text x="62" y="116.4" text-anchor="end" class="t">1</text>
<text x="62" y="81.2" text-anchor="end" class="t">2</text>
<text x="62" y="46" text-anchor="end" class="t">3</text>
<text x="501.85" y="275.2" class="t">0</text>
<text x="501.85" y="213.43" class="t">25</text>
<text x="501.85" y="151.65" class="t">50</text>
<text x="501.85" y="89.88" class="t">75</text>
<text x="501.35" y="28.1" class="t">100</text>
<text transform="translate(92.34 294.7) scale(1.0105 1)" style="letter-spacing:0.099px" class="t">7/2009</text>
<text transform="translate(197.03 294.7) scale(1.0166 1)" style="letter-spacing:0.152px" class="t">10/2009</text>
<text transform="translate(310.94 294.7) scale(1.0043 1)" style="letter-spacing:0.040px" class="t">1/2010</text>
<text transform="translate(417.55 294.7) scale(1.0010 1)" style="letter-spacing:0.010px" class="t">4/2010</text>
<text transform="translate(252.09 311.1) scale(1.0467 1)" style="letter-spacing:0.472px" class="t">Month</text>
<text transform="translate(91.9 43.2) scale(0.8952 1)" style="letter-spacing:0.000px" class="t">A</text>
<text transform="translate(92.15 59) scale(0.9906 1)" style="letter-spacing:-0.073px" class="t">Tropical Africa SW</text>
</g>
<text transform="translate(31.7 184.47) rotate(-90) scale(1.0247 1)" class="t">gC/m</text>
<text transform="translate(19.7 143.76) rotate(-90) scale(0.92 0.95)" style="font-size:11px" class="t">2</text>
<text transform="translate(31.7 137.7) rotate(-90) scale(1.0380 1)" class="t">/day</text>
<text transform="translate(522.4 81.4) rotate(90) scale(0.9945 1)" class="t">% Unc. Reduction</text>
</g>
<g>
<polygon points="81.85,440.32 117.1,438.56 153.9,412.16 190.85,397.72 226.55,373.44 263.2,372.03 298.95,374.84 335.85,377.66 372.28,379.77 405.6,385.76 443.05,396.67 477.9,417.08 477.9,520.22 443.05,501.92 405.6,489.95 372.28,483.96 335.85,480.44 298.95,478.33 263.2,475.52 226.55,477.98 190.85,501.92 153.9,519.16 117.1,541.69 81.85,544.51" fill="#c2f0c2"/>
<rect x="77.15" y="557.91" width="9.2" height="20.49" fill="#999999"/>
<rect x="112.85" y="553.96" width="9.2" height="24.44" fill="#999999"/>
<rect x="149.4" y="529.27" width="9.2" height="49.13" fill="#999999"/>
<rect x="186.15" y="534.95" width="9.2" height="43.45" fill="#999999"/>
<rect x="221.85" y="559.64" width="9.2" height="18.76" fill="#999999"/>
<rect x="258.4" y="564.57" width="9.2" height="13.83" fill="#999999"/>
<rect x="294.05" y="574.2" width="9.2" height="4.2" fill="#999999"/>
<rect x="330.75" y="571.24" width="9.2" height="7.16" fill="#999999"/>
<rect x="367.75" y="565.07" width="9.2" height="13.33" fill="#999999"/>
<rect x="401.15" y="549.02" width="9.2" height="29.38" fill="#999999"/>
<rect x="437.85" y="567.54" width="9.2" height="10.86" fill="#999999"/>
<rect x="473.2" y="571.73" width="9.2" height="6.67" fill="#999999"/>
<polyline points="81.65,492.41 116.9,491 153.7,466.01 190.65,450.52 226.35,425.18 263,424.12 298.75,428 335.65,430.11 372.08,432.92 405.4,436.44 442.85,448.76 477.7,468.83" fill="none" stroke="#00c800" stroke-width="3.2" stroke-linejoin="miter"/>
<rect x="78.5" y="489.26" width="6.3" height="6.3" fill="#00c800"/>
<rect x="113.75" y="487.85" width="6.3" height="6.3" fill="#00c800"/>
<rect x="150.55" y="462.86" width="6.3" height="6.3" fill="#00c800"/>
<rect x="187.5" y="447.37" width="6.3" height="6.3" fill="#00c800"/>
<rect x="223.2" y="422.03" width="6.3" height="6.3" fill="#00c800"/>
<rect x="259.85" y="420.97" width="6.3" height="6.3" fill="#00c800"/>
<rect x="295.6" y="424.85" width="6.3" height="6.3" fill="#00c800"/>
<rect x="332.5" y="426.96" width="6.3" height="6.3" fill="#00c800"/>
<rect x="368.93" y="429.77" width="6.3" height="6.3" fill="#00c800"/>
<rect x="402.25" y="433.29" width="6.3" height="6.3" fill="#00c800"/>
<rect x="439.7" y="445.61" width="6.3" height="6.3" fill="#00c800"/>
<rect x="474.55" y="465.68" width="6.3" height="6.3" fill="#00c800"/>
<polyline points="83,517.76 118.2,462.84 155.3,458.27 192.1,451.23 227.75,432.92 264.6,455.1 300.4,439.61 337.4,435.39 373.55,399.48 406.9,427.29 444.5,451.23 479.2,475.52" fill="none" stroke="#ff0000" stroke-width="3.2" stroke-linejoin="miter"/>
<path d="M83 495.58V539.93M118.2 452.28V474.81M155.3 439.96V474.81M192.1 436.44V468.12M227.75 415.32V445.24M264.6 439.61V473.05M300.4 426.59V452.99M337.4 414.97V452.64M373.55 386.46V412.16M406.9 411.45V441.37M444.5 436.8V466.72M479.2 460.73V489.95" stroke="#ff0000" stroke-width="1.6" fill="none"/>
<path d="M79.9 495.58H86.1M79.9 539.93H86.1M115.1 452.28H121.3M115.1 474.81H121.3M152.2 439.96H158.4M152.2 474.81H158.4M189 436.44H195.2M189 468.12H195.2M224.65 415.32H230.85M224.65 445.24H230.85M261.5 439.61H267.7M261.5 473.05H267.7M297.3 426.59H303.5M297.3 452.99H303.5M334.3 414.97H340.5M334.3 452.64H340.5M370.45 386.46H376.65M370.45 412.16H376.65M403.8 411.45H410M403.8 441.37H410M441.4 436.8H447.6M441.4 466.72H447.6M476.1 460.73H482.3M476.1 489.95H482.3" stroke="#ff0000" stroke-width="2" fill="none"/>
<rect x="79.7" y="514.46" width="6.6" height="6.6" fill="#ff0000"/>
<rect x="114.9" y="459.54" width="6.6" height="6.6" fill="#ff0000"/>
<rect x="152" y="454.97" width="6.6" height="6.6" fill="#ff0000"/>
<rect x="188.8" y="447.93" width="6.6" height="6.6" fill="#ff0000"/>
<rect x="224.45" y="429.62" width="6.6" height="6.6" fill="#ff0000"/>
<rect x="261.3" y="451.8" width="6.6" height="6.6" fill="#ff0000"/>
<rect x="297.1" y="436.31" width="6.6" height="6.6" fill="#ff0000"/>
<rect x="334.1" y="432.09" width="6.6" height="6.6" fill="#ff0000"/>
<rect x="370.25" y="396.18" width="6.6" height="6.6" fill="#ff0000"/>
<rect x="403.6" y="423.99" width="6.6" height="6.6" fill="#ff0000"/>
<rect x="441.2" y="447.93" width="6.6" height="6.6" fill="#ff0000"/>
<rect x="475.9" y="472.22" width="6.6" height="6.6" fill="#ff0000"/>
<polyline points="79.1,521.98 114.4,466.01 150.9,468.83 188,446.3 223.75,430.11 260.2,460.03 295.9,438.91 332.7,434.68 369.4,415.32 402.7,442.08 440,451.58 475,470.24" fill="none" stroke="#0000ff" stroke-width="3.2" stroke-linejoin="miter"/>
<path d="M79.1 501.92V542.4M114.4 455.45V475.52M150.9 455.1V482.91M188 433.63V459.68M223.75 416.73V444.54M260.2 444.89V476.57M295.9 426.59V451.93M332.7 416.38V452.28M369.4 403V427.64M402.7 427.29V456.16M440 437.15V466.36M475 455.1V483.96" stroke="#0000ff" stroke-width="1.6" fill="none"/>
<path d="M76 501.92H82.2M76 542.4H82.2M111.3 455.45H117.5M111.3 475.52H117.5M147.8 455.1H154M147.8 482.91H154M184.9 433.63H191.1M184.9 459.68H191.1M220.65 416.73H226.85M220.65 444.54H226.85M257.1 444.89H263.3M257.1 476.57H263.3M292.8 426.59H299M292.8 451.93H299M329.6 416.38H335.8M329.6 452.28H335.8M366.3 403H372.5M366.3 427.64H372.5M399.6 427.29H405.8M399.6 456.16H405.8M436.9 437.15H443.1M436.9 466.36H443.1M471.9 455.1H478.1M471.9 483.96H478.1" stroke="#0000ff" stroke-width="2" fill="none"/>
<rect x="75.8" y="518.68" width="6.6" height="6.6" fill="#0000ff"/>
<rect x="111.1" y="462.71" width="6.6" height="6.6" fill="#0000ff"/>
<rect x="147.6" y="465.53" width="6.6" height="6.6" fill="#0000ff"/>
<rect x="184.7" y="443" width="6.6" height="6.6" fill="#0000ff"/>
<rect x="220.45" y="426.81" width="6.6" height="6.6" fill="#0000ff"/>
<rect x="256.9" y="456.73" width="6.6" height="6.6" fill="#0000ff"/>
<rect x="292.6" y="435.61" width="6.6" height="6.6" fill="#0000ff"/>
<rect x="329.4" y="431.38" width="6.6" height="6.6" fill="#0000ff"/>
<rect x="366.1" y="412.02" width="6.6" height="6.6" fill="#0000ff"/>
<rect x="399.4" y="438.78" width="6.6" height="6.6" fill="#0000ff"/>
<rect x="436.7" y="448.28" width="6.6" height="6.6" fill="#0000ff"/>
<rect x="471.7" y="466.94" width="6.6" height="6.6" fill="#0000ff"/>
<line x1="72.5" y1="455.1" x2="488.4" y2="455.1" stroke="#000" stroke-width="2.1" stroke-dasharray="2.1 1.5"/>
<rect x="71" y="331.5" width="418.4" height="246.9" fill="none" stroke="#000" stroke-width="2.1"/>
<path d="M80.4 578.4V582.4M80.4 331.5V327.5M117.1 578.4V583.9M117.1 331.5V326M152.7 578.4V582.4M152.7 331.5V327.5M188.4 578.4V582.4M188.4 331.5V327.5M226.4 578.4V583.9M226.4 331.5V326M262.1 578.4V582.4M262.1 331.5V327.5M297.45 578.4V582.4M297.45 331.5V327.5M335.6 578.4V583.9M335.6 331.5V326M371.1 578.4V582.4M371.1 331.5V327.5M406.8 578.4V582.4M406.8 331.5V327.5M442.2 578.4V583.9M442.2 331.5V326M477.9 578.4V582.4M477.9 331.5V327.5M71 578.3H67M71 560.7H65M71 543.1H67M71 525.5H65M71 507.9H67M71 490.3H65M71 472.7H67M71 455.1H65M71 437.5H67M71 419.9H65M71 402.3H67M71 384.7H65M71 367.1H67M71 349.5H65M71 331.9H67M489.4 578.4H496.9M489.4 547.54H493.9M489.4 516.67H496.9M489.4 485.81H493.9M489.4 454.95H496.9M489.4 424.09H493.9M489.4 393.22H496.9M489.4 362.36H493.9M489.4 331.5H496.9" stroke="#000" stroke-width="2" fill="none"/>
<g transform="translate(0 0.6)">
<text x="62" y="566.7" text-anchor="end" class="t">-3</text>
<text x="62" y="531.5" text-anchor="end" class="t">-2</text>
<text x="62" y="496.3" text-anchor="end" class="t">-1</text>
<text x="62" y="461.1" text-anchor="end" class="t">0</text>
<text x="62" y="425.9" text-anchor="end" class="t">1</text>
<text x="62" y="390.7" text-anchor="end" class="t">2</text>
<text x="62" y="355.5" text-anchor="end" class="t">3</text>
<text x="501.85" y="584.5" class="t">0</text>
<text x="501.85" y="522.77" class="t">25</text>
<text x="501.85" y="461.05" class="t">50</text>
<text x="501.85" y="399.32" class="t">75</text>
<text x="501.35" y="337.6" class="t">100</text>
<text transform="translate(92.34 604) scale(1.0105 1)" style="letter-spacing:0.099px" class="t">7/2009</text>
<text transform="translate(197.03 604) scale(1.0166 1)" style="letter-spacing:0.152px" class="t">10/2009</text>
<text transform="translate(310.94 604) scale(1.0043 1)" style="letter-spacing:0.040px" class="t">1/2010</text>
<text transform="translate(417.55 604) scale(1.0010 1)" style="letter-spacing:0.010px" class="t">4/2010</text>
<text transform="translate(252.09 620.4) scale(1.0467 1)" style="letter-spacing:0.472px" class="t">Month</text>
<text transform="translate(91.35 352.4) scale(0.9176 1)" style="letter-spacing:0.000px" class="t">B</text>
<text transform="translate(92.55 369) scale(1.0074 1)" style="letter-spacing:0.063px" class="t">Temperate North America NW</text>
</g>
<text transform="translate(31.7 493.97) rotate(-90) scale(1.0247 1)" class="t">gC/m</text>
<text transform="translate(19.7 453.26) rotate(-90) scale(0.92 0.95)" style="font-size:11px" class="t">2</text>
<text transform="translate(31.7 447.2) rotate(-90) scale(1.0380 1)" class="t">/day</text>
<text transform="translate(522.4 390.9) rotate(90) scale(0.9945 1)" class="t">% Unc. Reduction</text>
</g>
</g>
<g transform="translate(0.3 0.3)" opacity="0.2500">
<rect width="550" height="625" fill="#fff"/>
<g>
<polygon points="81.85,100.19 117.1,98.78 153.9,94.21 190.85,101.95 226.55,97.73 263.2,108.99 298.95,83.3 335.85,79.42 372.28,84 405.6,86.11 443.05,84 477.9,85.41 477.9,187.14 443.05,185.38 405.6,188.54 372.28,187.14 335.85,180.1 298.95,184.32 263.2,208.96 226.55,200.16 190.85,202.62 153.9,196.99 117.1,200.16 81.85,201.92" fill="#c2f0c2"/>
<rect x="77.15" y="214.24" width="9.2" height="54.86" fill="#999999"/>
<rect x="112.85" y="193.73" width="9.2" height="75.37" fill="#999999"/>
<rect x="149.4" y="218.2" width="9.2" height="50.9" fill="#999999"/>
<rect x="186.15" y="225.36" width="9.2" height="43.74" fill="#999999"/>
<rect x="221.85" y="169.52" width="9.2" height="99.58" fill="#999999"/>
<rect x="258.4" y="141.35" width="9.2" height="127.75" fill="#999999"/>
<rect x="294.05" y="110.96" width="9.2" height="158.14" fill="#999999"/>
<rect x="330.75" y="140.86" width="9.2" height="128.24" fill="#999999"/>
<rect x="367.75" y="208.56" width="9.2" height="60.54" fill="#999999"/>
<rect x="401.15" y="187.06" width="9.2" height="82.04" fill="#999999"/>
<rect x="437.85" y="235.99" width="9.2" height="33.11" fill="#999999"/>
<rect x="473.2" y="176.19" width="9.2" height="92.91" fill="#999999"/>
<polyline points="81.65,150.53 116.9,150.88 153.7,144.54 190.65,152.29 226.35,148.06 263,158.27 298.75,132.58 335.65,129.41 372.08,135.74 405.4,138.56 442.85,133.98 477.7,136.45" fill="none" stroke="#00c800" stroke-width="3.2" stroke-linejoin="miter"/>
<rect x="78.5" y="147.38" width="6.3" height="6.3" fill="#00c800"/>
<rect x="113.75" y="147.73" width="6.3" height="6.3" fill="#00c800"/>
<rect x="150.55" y="141.39" width="6.3" height="6.3" fill="#00c800"/>
<rect x="187.5" y="149.14" width="6.3" height="6.3" fill="#00c800"/>
<rect x="223.2" y="144.91" width="6.3" height="6.3" fill="#00c800"/>
<rect x="259.85" y="155.12" width="6.3" height="6.3" fill="#00c800"/>
<rect x="295.6" y="129.43" width="6.3" height="6.3" fill="#00c800"/>
<rect x="332.5" y="126.26" width="6.3" height="6.3" fill="#00c800"/>
<rect x="368.93" y="132.59" width="6.3" height="6.3" fill="#00c800"/>
<rect x="402.25" y="135.41" width="6.3" height="6.3" fill="#00c800"/>
<rect x="439.7" y="130.83" width="6.3" height="6.3" fill="#00c800"/>
<rect x="474.55" y="133.3" width="6.3" height="6.3" fill="#00c800"/>
<polyline points="83,140.32 118.2,155.1 155.3,137.15 192.1,168.48 227.75,150.88 264.6,188.9 300.4,123.78 337.4,78.72 373.55,90.69 406.9,105.12 444.5,78.02 479.2,137.86" fill="none" stroke="#ff0000" stroke-width="3.2" stroke-linejoin="miter"/>
<path d="M83 106.88V178.34M118.2 113.57V196.99M155.3 99.49V174.46M192.1 136.8V199.81M227.75 114.98V187.14M264.6 146.66V231.49M300.4 77.66V169.89M337.4 37.89V120.61M373.55 51.26V130.46M406.9 66.4V142.43M444.5 37.18V119.55M479.2 108.64V167.07" stroke="#ff0000" stroke-width="1.6" fill="none"/>
<path d="M79.9 106.88H86.1M79.9 178.34H86.1M115.1 113.57H121.3M115.1 196.99H121.3M152.2 99.49H158.4M152.2 174.46H158.4M189 136.8H195.2M189 199.81H195.2M224.65 114.98H230.85M224.65 187.14H230.85M261.5 146.66H267.7M261.5 231.49H267.7M297.3 77.66H303.5M297.3 169.89H303.5M334.3 37.89H340.5M334.3 120.61H340.5M370.45 51.26H376.65M370.45 130.46H376.65M403.8 66.4H410M403.8 142.43H410M441.4 37.18H447.6M441.4 119.55H447.6M476.1 108.64H482.3M476.1 167.07H482.3" stroke="#ff0000" stroke-width="2" fill="none"/>
<rect x="79.7" y="137.02" width="6.6" height="6.6" fill="#ff0000"/>
<rect x="114.9" y="151.8" width="6.6" height="6.6" fill="#ff0000"/>
<rect x="152" y="133.85" width="6.6" height="6.6" fill="#ff0000"/>
<rect x="188.8" y="165.18" width="6.6" height="6.6" fill="#ff0000"/>
<rect x="224.45" y="147.58" width="6.6" height="6.6" fill="#ff0000"/>
<rect x="261.3" y="185.6" width="6.6" height="6.6" fill="#ff0000"/>
<rect x="297.1" y="120.48" width="6.6" height="6.6" fill="#ff0000"/>
<rect x="334.1" y="75.42" width="6.6" height="6.6" fill="#ff0000"/>
<rect x="370.25" y="87.39" width="6.6" height="6.6" fill="#ff0000"/>
<rect x="403.6" y="101.82" width="6.6" height="6.6" fill="#ff0000"/>
<rect x="441.2" y="74.72" width="6.6" height="6.6" fill="#ff0000"/>
<rect x="475.9" y="134.56" width="6.6" height="6.6" fill="#ff0000"/>
<polyline points="79.1,135.74 114.4,176.58 150.9,167.78 188,176.58 223.75,156.16 260.2,148.06 295.9,108.64 332.7,113.22 369.4,86.82 402.7,58.66 440,113.57 475,146.3" fill="none" stroke="#0000ff" stroke-width="3.2" stroke-linejoin="miter"/>
<path d="M79.1 107.58V163.2M114.4 147.89V205.09M150.9 138.21V197.34M188 151.23V202.98M223.75 135.04V177.98M260.2 128.35V168.83M295.9 92.1V124.48M332.7 93.15V132.58M369.4 56.9V116.74M402.7 32.96V84M440 77.66V148.77M475 129.06V164.26" stroke="#0000ff" stroke-width="1.6" fill="none"/>
<path d="M76 107.58H82.2M76 163.2H82.2M111.3 147.89H117.5M111.3 205.09H117.5M147.8 138.21H154M147.8 197.34H154M184.9 151.23H191.1M184.9 202.98H191.1M220.65 135.04H226.85M220.65 177.98H226.85M257.1 128.35H263.3M257.1 168.83H263.3M292.8 92.1H299M292.8 124.48H299M329.6 93.15H335.8M329.6 132.58H335.8M366.3 56.9H372.5M366.3 116.74H372.5M399.6 32.96H405.8M399.6 84H405.8M436.9 77.66H443.1M436.9 148.77H443.1M471.9 129.06H478.1M471.9 164.26H478.1" stroke="#0000ff" stroke-width="2" fill="none"/>
<rect x="75.8" y="132.44" width="6.6" height="6.6" fill="#0000ff"/>
<rect x="111.1" y="173.28" width="6.6" height="6.6" fill="#0000ff"/>
<rect x="147.6" y="164.48" width="6.6" height="6.6" fill="#0000ff"/>
<rect x="184.7" y="173.28" width="6.6" height="6.6" fill="#0000ff"/>
<rect x="220.45" y="152.86" width="6.6" height="6.6" fill="#0000ff"/>
<rect x="256.9" y="144.76" width="6.6" height="6.6" fill="#0000ff"/>
<rect x="292.6" y="105.34" width="6.6" height="6.6" fill="#0000ff"/>
<rect x="329.4" y="109.92" width="6.6" height="6.6" fill="#0000ff"/>
<rect x="366.1" y="83.52" width="6.6" height="6.6" fill="#0000ff"/>
<rect x="399.4" y="55.36" width="6.6" height="6.6" fill="#0000ff"/>
<rect x="436.7" y="110.27" width="6.6" height="6.6" fill="#0000ff"/>
<rect x="471.7" y="143" width="6.6" height="6.6" fill="#0000ff"/>
<line x1="72.5" y1="145.6" x2="488.4" y2="145.6" stroke="#000" stroke-width="2.1" stroke-dasharray="2.1 1.5"/>
<rect x="71" y="22" width="418.4" height="247.1" fill="none" stroke="#000" stroke-width="2.1"/>
<path d="M80.4 269.1V273.1M80.4 22V18M117.1 269.1V274.6M117.1 22V16.5M152.7 269.1V273.1M152.7 22V18M188.4 269.1V273.1M188.4 22V18M226.4 269.1V274.6M226.4 22V16.5M262.1 269.1V273.1M262.1 22V18M297.45 269.1V273.1M297.45 22V18M335.6 269.1V274.6M335.6 22V16.5M371.1 269.1V273.1M371.1 22V18M406.8 269.1V273.1M406.8 22V18M442.2 269.1V274.6M442.2 22V16.5M477.9 269.1V273.1M477.9 22V18M71 268.8H67M71 251.2H65M71 233.6H67M71 216H65M71 198.4H67M71 180.8H65M71 163.2H67M71 145.6H65M71 128H67M71 110.4H65M71 92.8H67M71 75.2H65M71 57.6H67M71 40H65M71 22.4H67M489.4 269.1H496.9M489.4 238.21H493.9M489.4 207.33H496.9M489.4 176.44H493.9M489.4 145.55H496.9M489.4 114.66H493.9M489.4 83.78H496.9M489.4 52.89H493.9M489.4 22H496.9" stroke="#000" stroke-width="2" fill="none"/>
<g transform="translate(0 0.6)">
<text x="62" y="257.2" text-anchor="end" class="t">-3</text>
<text x="62" y="222" text-anchor="end" class="t">-2</text>
<text x="62" y="186.8" text-anchor="end" class="t">-1</text>
<text x="62" y="151.6" text-anchor="end" class="t">0</text>
<text x="62" y="116.4" text-anchor="end" class="t">1</text>
<text x="62" y="81.2" text-anchor="end" class="t">2</text>
<text x="62" y="46" text-anchor="end" class="t">3</text>
<text x="501.85" y="275.2" class="t">0</text>
<text x="501.85" y="213.43" class="t">25</text>
<text x="501.85" y="151.65" class="t">50</text>
<text x="501.85" y="89.88" class="t">75</text>
<text x="501.35" y="28.1" class="t">100</text>
<text transform="translate(92.34 294.7) scale(1.0105 1)" style="letter-spacing:0.099px" class="t">7/2009</text>
<text transform="translate(197.03 294.7) scale(1.0166 1)" style="letter-spacing:0.152px" class="t">10/2009</text>
<text transform="translate(310.94 294.7) scale(1.0043 1)" style="letter-spacing:0.040px" class="t">1/2010</text>
<text transform="translate(417.55 294.7) scale(1.0010 1)" style="letter-spacing:0.010px" class="t">4/2010</text>
<text transform="translate(252.09 311.1) scale(1.0467 1)" style="letter-spacing:0.472px" class="t">Month</text>
<text transform="translate(91.9 43.2) scale(0.8952 1)" style="letter-spacing:0.000px" class="t">A</text>
<text transform="translate(92.15 59) scale(0.9906 1)" style="letter-spacing:-0.073px" class="t">Tropical Africa SW</text>
</g>
<text transform="translate(31.7 184.47) rotate(-90) scale(1.0247 1)" class="t">gC/m</text>
<text transform="translate(19.7 143.76) rotate(-90) scale(0.92 0.95)" style="font-size:11px" class="t">2</text>
<text transform="translate(31.7 137.7) rotate(-90) scale(1.0380 1)" class="t">/day</text>
<text transform="translate(522.4 81.4) rotate(90) scale(0.9945 1)" class="t">% Unc. Reduction</text>
</g>
<g>
<polygon points="81.85,440.32 117.1,438.56 153.9,412.16 190.85,397.72 226.55,373.44 263.2,372.03 298.95,374.84 335.85,377.66 372.28,379.77 405.6,385.76 443.05,396.67 477.9,417.08 477.9,520.22 443.05,501.92 405.6,489.95 372.28,483.96 335.85,480.44 298.95,478.33 263.2,475.52 226.55,477.98 190.85,501.92 153.9,519.16 117.1,541.69 81.85,544.51" fill="#c2f0c2"/>
<rect x="77.15" y="557.91" width="9.2" height="20.49" fill="#999999"/>
<rect x="112.85" y="553.96" width="9.2" height="24.44" fill="#999999"/>
<rect x="149.4" y="529.27" width="9.2" height="49.13" fill="#999999"/>
<rect x="186.15" y="534.95" width="9.2" height="43.45" fill="#999999"/>
<rect x="221.85" y="559.64" width="9.2" height="18.76" fill="#999999"/>
<rect x="258.4" y="564.57" width="9.2" height="13.83" fill="#999999"/>
<rect x="294.05" y="574.2" width="9.2" height="4.2" fill="#999999"/>
<rect x="330.75" y="571.24" width="9.2" height="7.16" fill="#999999"/>
<rect x="367.75" y="565.07" width="9.2" height="13.33" fill="#999999"/>
<rect x="401.15" y="549.02" width="9.2" height="29.38" fill="#999999"/>
<rect x="437.85" y="567.54" width="9.2" height="10.86" fill="#999999"/>
<rect x="473.2" y="571.73" width="9.2" height="6.67" fill="#999999"/>
<polyline points="81.65,492.41 116.9,491 153.7,466.01 190.65,450.52 226.35,425.18 263,424.12 298.75,428 335.65,430.11 372.08,432.92 405.4,436.44 442.85,448.76 477.7,468.83" fill="none" stroke="#00c800" stroke-width="3.2" stroke-linejoin="miter"/>
<rect x="78.5" y="489.26" width="6.3" height="6.3" fill="#00c800"/>
<rect x="113.75" y="487.85" width="6.3" height="6.3" fill="#00c800"/>
<rect x="150.55" y="462.86" width="6.3" height="6.3" fill="#00c800"/>
<rect x="187.5" y="447.37" width="6.3" height="6.3" fill="#00c800"/>
<rect x="223.2" y="422.03" width="6.3" height="6.3" fill="#00c800"/>
<rect x="259.85" y="420.97" width="6.3" height="6.3" fill="#00c800"/>
<rect x="295.6" y="424.85" width="6.3" height="6.3" fill="#00c800"/>
<rect x="332.5" y="426.96" width="6.3" height="6.3" fill="#00c800"/>
<rect x="368.93" y="429.77" width="6.3" height="6.3" fill="#00c800"/>
<rect x="402.25" y="433.29" width="6.3" height="6.3" fill="#00c800"/>
<rect x="439.7" y="445.61" width="6.3" height="6.3" fill="#00c800"/>
<rect x="474.55" y="465.68" width="6.3" height="6.3" fill="#00c800"/>
<polyline points="83,517.76 118.2,462.84 155.3,458.27 192.1,451.23 227.75,432.92 264.6,455.1 300.4,439.61 337.4,435.39 373.55,399.48 406.9,427.29 444.5,451.23 479.2,475.52" fill="none" stroke="#ff0000" stroke-width="3.2" stroke-linejoin="miter"/>
<path d="M83 495.58V539.93M118.2 452.28V474.81M155.3 439.96V474.81M192.1 436.44V468.12M227.75 415.32V445.24M264.6 439.61V473.05M300.4 426.59V452.99M337.4 414.97V452.64M373.55 386.46V412.16M406.9 411.45V441.37M444.5 436.8V466.72M479.2 460.73V489.95" stroke="#ff0000" stroke-width="1.6" fill="none"/>
<path d="M79.9 495.58H86.1M79.9 539.93H86.1M115.1 452.28H121.3M115.1 474.81H121.3M152.2 439.96H158.4M152.2 474.81H158.4M189 436.44H195.2M189 468.12H195.2M224.65 415.32H230.85M224.65 445.24H230.85M261.5 439.61H267.7M261.5 473.05H267.7M297.3 426.59H303.5M297.3 452.99H303.5M334.3 414.97H340.5M334.3 452.64H340.5M370.45 386.46H376.65M370.45 412.16H376.65M403.8 411.45H410M403.8 441.37H410M441.4 436.8H447.6M441.4 466.72H447.6M476.1 460.73H482.3M476.1 489.95H482.3" stroke="#ff0000" stroke-width="2" fill="none"/>
<rect x="79.7" y="514.46" width="6.6" height="6.6" fill="#ff0000"/>
<rect x="114.9" y="459.54" width="6.6" height="6.6" fill="#ff0000"/>
<rect x="152" y="454.97" width="6.6" height="6.6" fill="#ff0000"/>
<rect x="188.8" y="447.93" width="6.6" height="6.6" fill="#ff0000"/>
<rect x="224.45" y="429.62" width="6.6" height="6.6" fill="#ff0000"/>
<rect x="261.3" y="451.8" width="6.6" height="6.6" fill="#ff0000"/>
<rect x="297.1" y="436.31" width="6.6" height="6.6" fill="#ff0000"/>
<rect x="334.1" y="432.09" width="6.6" height="6.6" fill="#ff0000"/>
<rect x="370.25" y="396.18" width="6.6" height="6.6" fill="#ff0000"/>
<rect x="403.6" y="423.99" width="6.6" height="6.6" fill="#ff0000"/>
<rect x="441.2" y="447.93" width="6.6" height="6.6" fill="#ff0000"/>
<rect x="475.9" y="472.22" width="6.6" height="6.6" fill="#ff0000"/>
<polyline points="79.1,521.98 114.4,466.01 150.9,468.83 188,446.3 223.75,430.11 260.2,460.03 295.9,438.91 332.7,434.68 369.4,415.32 402.7,442.08 440,451.58 475,470.24" fill="none" stroke="#0000ff" stroke-width="3.2" stroke-linejoin="miter"/>
<path d="M79.1 501.92V542.4M114.4 455.45V475.52M150.9 455.1V482.91M188 433.63V459.68M223.75 416.73V444.54M260.2 444.89V476.57M295.9 426.59V451.93M332.7 416.38V452.28M369.4 403V427.64M402.7 427.29V456.16M440 437.15V466.36M475 455.1V483.96" stroke="#0000ff" stroke-width="1.6" fill="none"/>
<path d="M76 501.92H82.2M76 542.4H82.2M111.3 455.45H117.5M111.3 475.52H117.5M147.8 455.1H154M147.8 482.91H154M184.9 433.63H191.1M184.9 459.68H191.1M220.65 416.73H226.85M220.65 444.54H226.85M257.1 444.89H263.3M257.1 476.57H263.3M292.8 426.59H299M292.8 451.93H299M329.6 416.38H335.8M329.6 452.28H335.8M366.3 403H372.5M366.3 427.64H372.5M399.6 427.29H405.8M399.6 456.16H405.8M436.9 437.15H443.1M436.9 466.36H443.1M471.9 455.1H478.1M471.9 483.96H478.1" stroke="#0000ff" stroke-width="2" fill="none"/>
<rect x="75.8" y="518.68" width="6.6" height="6.6" fill="#0000ff"/>
<rect x="111.1" y="462.71" width="6.6" height="6.6" fill="#0000ff"/>
<rect x="147.6" y="465.53" width="6.6" height="6.6" fill="#0000ff"/>
<rect x="184.7" y="443" width="6.6" height="6.6" fill="#0000ff"/>
<rect x="220.45" y="426.81" width="6.6" height="6.6" fill="#0000ff"/>
<rect x="256.9" y="456.73" width="6.6" height="6.6" fill="#0000ff"/>
<rect x="292.6" y="435.61" width="6.6" height="6.6" fill="#0000ff"/>
<rect x="329.4" y="431.38" width="6.6" height="6.6" fill="#0000ff"/>
<rect x="366.1" y="412.02" width="6.6" height="6.6" fill="#0000ff"/>
<rect x="399.4" y="438.78" width="6.6" height="6.6" fill="#0000ff"/>
<rect x="436.7" y="448.28" width="6.6" height="6.6" fill="#0000ff"/>
<rect x="471.7" y="466.94" width="6.6" height="6.6" fill="#0000ff"/>
<line x1="72.5" y1="455.1" x2="488.4" y2="455.1" stroke="#000" stroke-width="2.1" stroke-dasharray="2.1 1.5"/>
<rect x="71" y="331.5" width="418.4" height="246.9" fill="none" stroke="#000" stroke-width="2.1"/>
<path d="M80.4 578.4V582.4M80.4 331.5V327.5M117.1 578.4V583.9M117.1 331.5V326M152.7 578.4V582.4M152.7 331.5V327.5M188.4 578.4V582.4M188.4 331.5V327.5M226.4 578.4V583.9M226.4 331.5V326M262.1 578.4V582.4M262.1 331.5V327.5M297.45 578.4V582.4M297.45 331.5V327.5M335.6 578.4V583.9M335.6 331.5V326M371.1 578.4V582.4M371.1 331.5V327.5M406.8 578.4V582.4M406.8 331.5V327.5M442.2 578.4V583.9M442.2 331.5V326M477.9 578.4V582.4M477.9 331.5V327.5M71 578.3H67M71 560.7H65M71 543.1H67M71 525.5H65M71 507.9H67M71 490.3H65M71 472.7H67M71 455.1H65M71 437.5H67M71 419.9H65M71 402.3H67M71 384.7H65M71 367.1H67M71 349.5H65M71 331.9H67M489.4 578.4H496.9M489.4 547.54H493.9M489.4 516.67H496.9M489.4 485.81H493.9M489.4 454.95H496.9M489.4 424.09H493.9M489.4 393.22H496.9M489.4 362.36H493.9M489.4 331.5H496.9" stroke="#000" stroke-width="2" fill="none"/>
<g transform="translate(0 0.6)">
<text x="62" y="566.7" text-anchor="end" class="t">-3</text>
<text x="62" y="531.5" text-anchor="end" class="t">-2</text>
<text x="62" y="496.3" text-anchor="end" class="t">-1</text>
<text x="62" y="461.1" text-anchor="end" class="t">0</text>
<text x="62" y="425.9" text-anchor="end" class="t">1</text>
<text x="62" y="390.7" text-anchor="end" class="t">2</text>
<text x="62" y="355.5" text-anchor="end" class="t">3</text>
<text x="501.85" y="584.5" class="t">0</text>
<text x="501.85" y="522.77" class="t">25</text>
<text x="501.85" y="461.05" class="t">50</text>
<text x="501.85" y="399.32" class="t">75</text>
<text x="501.35" y="337.6" class="t">100</text>
<text transform="translate(92.34 604) scale(1.0105 1)" style="letter-spacing:0.099px" class="t">7/2009</text>
<text transform="translate(197.03 604) scale(1.0166 1)" style="letter-spacing:0.152px" class="t">10/2009</text>
<text transform="translate(310.94 604) scale(1.0043 1)" style="letter-spacing:0.040px" class="t">1/2010</text>
<text transform="translate(417.55 604) scale(1.0010 1)" style="letter-spacing:0.010px" class="t">4/2010</text>
<text transform="translate(252.09 620.4) scale(1.0467 1)" style="letter-spacing:0.472px" class="t">Month</text>
<text transform="translate(91.35 352.4) scale(0.9176 1)" style="letter-spacing:0.000px" class="t">B</text>
<text transform="translate(92.55 369) scale(1.0074 1)" style="letter-spacing:0.063px" class="t">Temperate North America NW</text>
</g>
<text transform="translate(31.7 493.97) rotate(-90) scale(1.0247 1)" class="t">gC/m</text>
<text transform="translate(19.7 453.26) rotate(-90) scale(0.92 0.95)" style="font-size:11px" class="t">2</text>
<text transform="translate(31.7 447.2) rotate(-90) scale(1.0380 1)" class="t">/day</text>
<text transform="translate(522.4 390.9) rotate(90) scale(0.9945 1)" class="t">% Unc. Reduction</text>
</g>
</g>
</svg>
</body></html>
